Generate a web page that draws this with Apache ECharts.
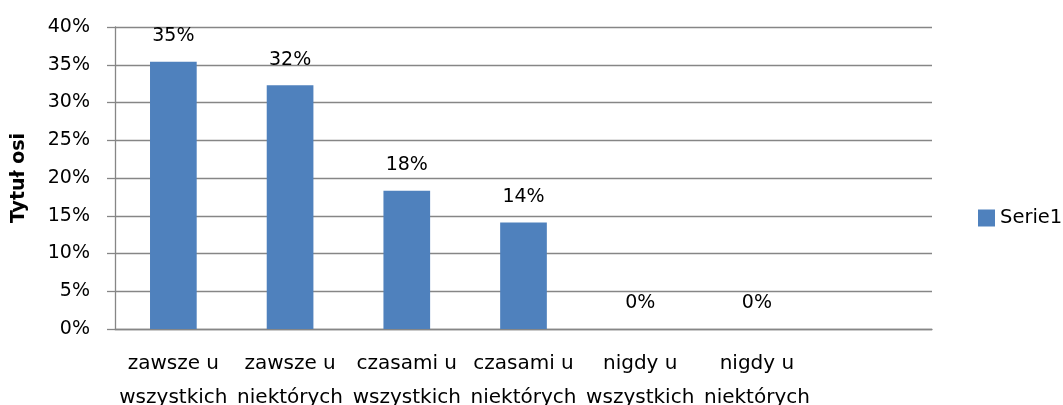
<!DOCTYPE html>
<html><head><meta charset="utf-8">
<script src="https://cdn.jsdelivr.net/npm/echarts@6/dist/echarts.min.js"></script>
<style>html,body{margin:0;padding:0;background:#fff}#c{width:1063px;height:405px}</style>
</head><body><div id="c"></div>
<script>
var categories = ['zawsze u\nwszystkich','zawsze u\nniektórych','czasami u\nwszystkich','czasami u\nniektórych','nigdy u\nwszystkich','nigdy u\nniektórych',''];
var serie1 = [0.354, 0.323, 0.183, 0.141, 0, 0, null];
var seriesName = 'Serie1';
var axisTitle = 'Tytuł osi';
var font = '"DejaVu Sans", sans-serif';
var chart = echarts.init(document.getElementById('c'), null, {renderer:'canvas'});
chart.setOption({
  animation:false,
  grid:{left:115, right:131, top:27, bottom:76, containLabel:false, outerBoundsMode:'none'},
  legend:{data:[seriesName], left:973, top:203, itemWidth:17, itemHeight:17, itemGap:3,
    textStyle:{fontFamily:font, fontSize:19.5, color:'#000'}, icon:'rect'},
  xAxis:{type:'category', data:categories,
    axisLine:{lineStyle:{color:'#868686', width:1.3}},
    axisTick:{show:false},
    axisLabel:{interval:0, color:'#000', fontFamily:font, fontSize:20, lineHeight:34, margin:18}},
  yAxis:{type:'value', min:0, max:0.4, interval:0.05,
    name:axisTitle, nameLocation:'middle', nameGap:86, nameRotate:90,
    nameTextStyle:{fontFamily:font, fontSize:19, fontWeight:'bold', color:'#000'},
    axisLine:{show:true, lineStyle:{color:'#868686', width:1.3}},
    axisTick:{show:true, inside:false, length:8, lineStyle:{color:'#868686', width:1.3}},
    splitLine:{lineStyle:{color:'#868686', width:1.3}},
    axisLabel:{color:'#000', fontFamily:font, fontSize:19, margin:25,
      formatter:function(v){return Math.round(v*100)+'%';}}},
  series:[{name:seriesName, type:'bar', data:serie1, barCategoryGap:'60%',
    itemStyle:{color:'#4f81bd'},
    label:{show:true, position:'top', distance:16, color:'#000', fontFamily:font, fontSize:19,
      formatter:function(p){return p.value==null?'':Math.round(p.value*100)+'%';}}}]
});
</script></body></html>
